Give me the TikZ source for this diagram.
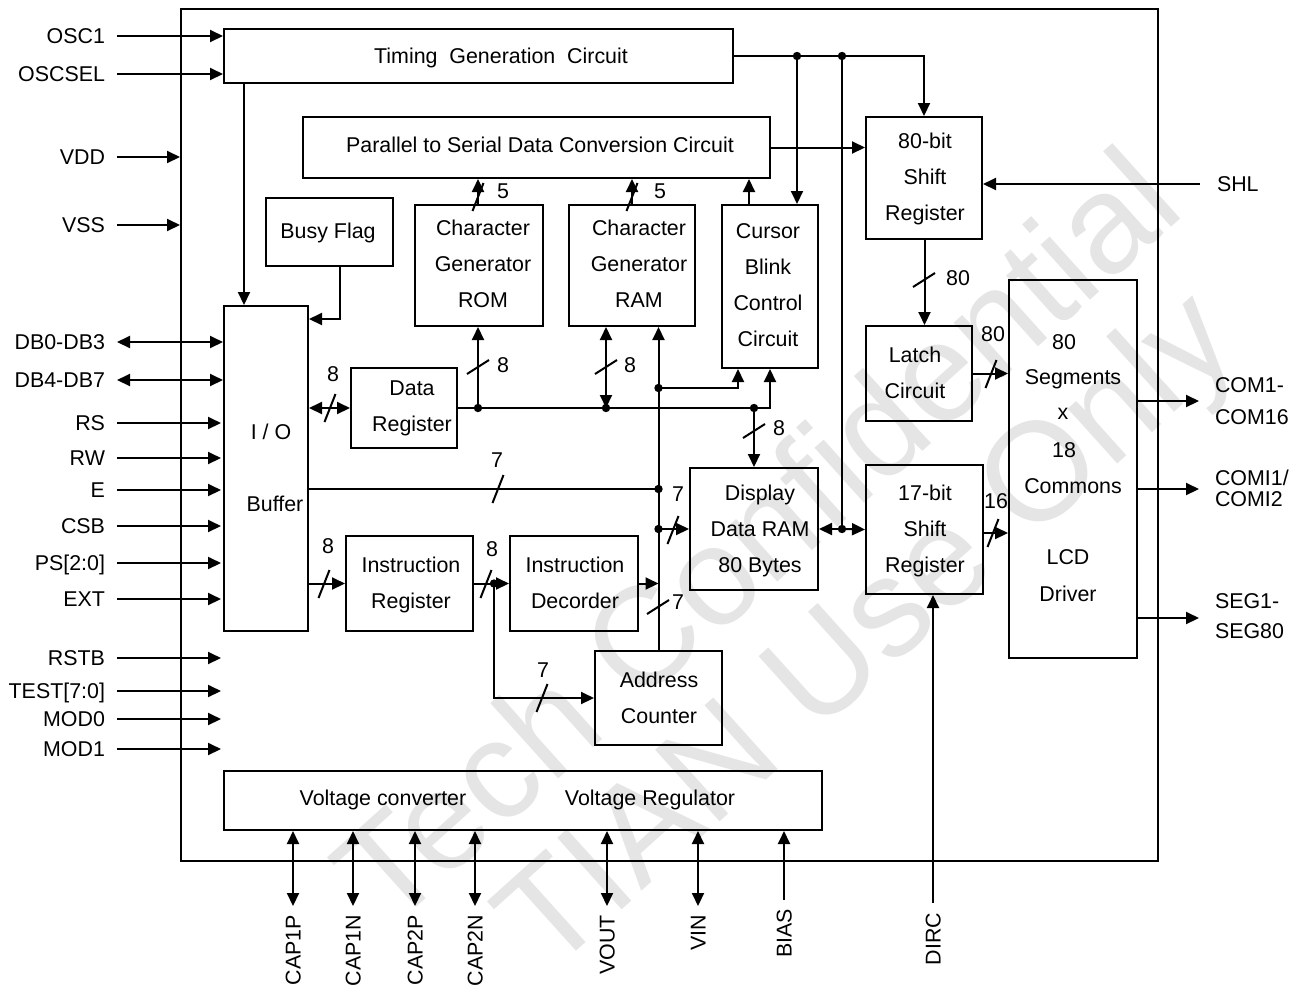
\documentclass[tikz,border=0pt]{standalone}
\usepackage{fontspec}
\setmainfont{Liberation Sans}
\usetikzlibrary{arrows.meta,fit}
\newcommand{\busH}[1]{\draw (#1) ++(-5.5,14) -- ++(11,-28);}
\newcommand{\busV}[1]{\draw (#1) ++(-11,7) -- ++(22,-14);}
\begin{document}
\begin{tikzpicture}[x=0.5pt,y=-0.5pt,line width=1pt,
  box/.style={draw,inner sep=0pt,fit={#1}},
  f/.style={font=\fontsize{10.7pt}{18pt}\selectfont},
  lbl/.style={f,inner sep=0pt,text height=7.7pt,text depth=0pt},
  txt/.style={f,inner sep=0pt,align=center,text depth=0pt},
  arr/.style={-{Triangle[length=6.5pt,width=6pt]}},
  darr/.style={{Triangle[length=6.5pt,width=6pt]}-{Triangle[length=6.5pt,width=6pt]}},
  dot/.style={circle,fill,inner sep=0pt,minimum size=4.2pt},
  wm/.style={text=black!10,font=\fontsize{70pt}{70pt}\selectfont,rotate=42,inner sep=0pt}]
\useasboundingbox (0,0) rectangle (1300,986);
\fill[white] (0,0) rectangle (1300,986);
% watermark
\node[wm] (wm1) at (755,535) {Tech Confidential};
\node[wm] (wm2) at (872,636) {TIAN Use Only};
% boxes
\node[box={(181,9) (1158,861)}] (chip) {};
\node[box={(224,29) (733,83)}] (tgc) {};
\node[box={(303,117) (770,178)}] (ps) {};
\node[box={(266,198) (393,266)}] (busy) {};
\node[box={(415,205) (543,326)}] (cgrom) {};
\node[box={(569,205) (695,326)}] (cgram) {};
\node[box={(722,205) (818,368)}] (cbc) {};
\node[box={(866,117) (982,239)}] (sr80) {};
\node[box={(224,306) (308,631)}] (iob) {};
\node[box={(351,368) (457,448)}] (datareg) {};
\node[box={(346,536) (473,631)}] (ir) {};
\node[box={(510,536) (638,631)}] (dec) {};
\node[box={(595,651) (722,745)}] (ac) {};
\node[box={(690,468) (818,590)}] (ddram) {};
\node[box={(866,326) (972,421)}] (latch) {};
\node[box={(866,465) (983,594)}] (sr17) {};
\node[box={(1009,280) (1137,658)}] (lcd) {};
\node[box={(224,771) (822,830)}] (vc) {};
% box texts
\node[lbl] at (501,56) {Timing~ Generation~ Circuit};
\node[lbl] at (540,145) {Parallel to Serial Data Conversion Circuit};
\node[lbl] at (328,231) {Busy Flag};
\node[txt] at (483,264) {Character\\Generator\\ROM};
\node[txt] at (639,264) {Character\\Generator\\RAM};
\node[txt] at (768,285) {Cursor\\Blink\\Control\\Circuit};
\node[txt] at (925,177) {80-bit\\Shift\\Register};
\node[txt] at (412,406) {Data\\Register};
\node[lbl] at (271,432) {I / O};
\node[lbl] at (275,504) {Buffer};
\node[txt] at (411,583) {Instruction\\Register};
\node[txt] at (575,583) {Instruction\\Decorder};
\node[txt] at (659,698) {Address\\Counter};
\node[txt] at (760,529) {Display\\Data RAM\\80 Bytes};
\node[txt] at (915,373) {Latch\\Circuit};
\node[txt] at (925,529) {17-bit\\Shift\\Register};
\node[lbl] at (1064,342) {80};
\node[lbl] at (1073,377) {Segments};
\node[lbl] at (1063,412) {x};
\node[lbl] at (1064,450) {18};
\node[lbl] at (1073,486) {Commons};
\node[lbl] at (1068,557) {LCD};
\node[lbl] at (1068,594) {Driver};
\node[lbl] at (383,798) {Voltage converter};
\node[lbl] at (650,798) {Voltage Regulator};
% left pins
\foreach \n/\t/\y in {osc1/OSC1/36,oscsel/OSCSEL/74}{
  \node[lbl,anchor=east] (p\n) at (106,\y) {\t};
  \draw[arr] ([xshift=5.5pt]p\n.east) -- (p\n.east -| tgc.west);}
\foreach \n/\t/\y in {vdd/VDD/157,vss/VSS/225}{
  \node[lbl,anchor=east] (p\n) at (106,\y) {\t};
  \draw[arr] ([xshift=5.5pt]p\n.east) -- (p\n.east -| chip.west);}
\foreach \n/\t/\y in {dba/DB0-DB3/342,dbb/DB4-DB7/380}{
  \node[lbl,anchor=east] (p\n) at (106,\y) {\t};
  \draw[darr] ([xshift=5.5pt]p\n.east) -- (p\n.east -| iob.west);}
\foreach \n/\t/\y in {rs/RS/423,rw/RW/458,e/E/490,csb/CSB/526,psx/PS[2:0]/563,ext/EXT/599,rstb/RSTB/658,test/TEST[7:0]/691,moda/MOD0/719,modb/MOD1/749}{
  \node[lbl,anchor=east] (p\n) at (106,\y) {\t};
  \draw[arr] ([xshift=5.5pt]p\n.east) -- ([xshift=-1pt]p\n.east -| iob.west);}
% timing outputs
\draw[arr] ([xshift=10.5pt]tgc.south west) -- ([xshift=10.5pt]iob.north west);
\coordinate (jt1) at (797,56);
\coordinate (jt2) at (842,56);
\draw[arr] (tgc.east) -| (sr80.north);
\draw[arr] (jt1) -- (jt1 |- cbc.north);
\coordinate (jdd) at (jt2 |- ddram.east);
\draw (jt2) -- (jdd);
\draw[arr] (jdd) -- (ddram.east);
\draw[arr] (jdd) -- (sr17.west);
\node[dot] at (jt1) {};
\node[dot] at (jt2) {};
\node[dot] at (jdd) {};
% parallel to serial
\draw[arr] (ps.east) -- (ps.east -| sr80.west);
\draw[arr] ([xshift=-0.5pt]cgrom.north) -- ([xshift=-0.5pt]cgrom.north |- ps.south);
\busH{478,197} \node[lbl] at (503,191) {5};
\draw[arr] (cgram.north) -- (cgram.north |- ps.south);
\busH{632,197} \node[lbl] at (660,191) {5};
\draw[arr] ([xshift=-10.5pt]cbc.north) -- ([xshift=-10.5pt]cbc.north |- ps.south);
% SHL
\node[lbl,anchor=west] (shl) at (1216,184) {SHL};
\draw[arr] ([xshift=-8pt]shl.west) -- (shl.west -| sr80.east);
% 80-bit to latch
\draw[arr] ([xshift=0.25pt]sr80.south) -- ([xshift=0.25pt]sr80.south |- latch.north);
\busV{924,280} \node[lbl] at (958,278) {80};
\draw[arr] (latch.east) -- (latch.east -| lcd.west);
\busH{991,374} \node[lbl] at (993,334) {80};
\draw[arr] ([yshift=-1.75pt]sr17.east) -- ([yshift=-1.75pt]sr17.east -| lcd.west);
\busH{993,533} \node[lbl] at (996,501) {16};
% DIRC
\node[lbl,rotate=90,anchor=east] (dirc) at (933,912) {DIRC};
\draw[arr] ([yshift=4.5pt]dirc.east) -- (dirc.east |- sr17.south);
% LCD outputs
\node[f,inner sep=0pt,align=left,text depth=0pt,anchor=west,font=\fontsize{10.7pt}{16pt}\selectfont] (com) at (1214,401) {COM1-\\COM16};
\node[f,inner sep=0pt,align=left,text depth=0pt,anchor=west,font=\fontsize{10.7pt}{10.5pt}\selectfont] (comi) at (1214,488) {COMI1/\\COMI2};
\node[f,inner sep=0pt,align=left,text depth=0pt,anchor=west,font=\fontsize{10.7pt}{15pt}\selectfont] (seg) at (1214,616) {SEG1-\\SEG80};
\draw[arr] (com.west -| lcd.east) -- ([xshift=-7.5pt]com.west);
\draw[arr] ([yshift=-0.5pt]comi.west -| lcd.east) -- ([xshift=-7.5pt,yshift=-0.5pt]comi.west);
\draw[arr] ([yshift=-1pt]seg.west -| lcd.east) -- ([xshift=-7.5pt,yshift=-1pt]seg.west);
% I/O buffer connections
\draw[arr] ([xshift=5.25pt]busy.south) |- ([yshift=-7pt]iob.north east);
\draw[darr] (datareg.west -| iob.east) -- (datareg.west);
\busH{330,408} \node[lbl] at (333,374) {8};
\coordinate (jd1) at (478,408);
\coordinate (jd2) at (606,408);
\coordinate (jd3) at (754,408);
\draw[arr] (datareg.east) -| (cbc.south);
\draw[arr] (jd1) -- (jd1 |- cgrom.south);
\busV{478,367} \node[lbl] at (503,365) {8};
\draw[darr] (jd2) -- (jd2 |- cgram.south);
\busV{606,367} \node[lbl] at (630,365) {8};
\draw[arr] (jd3) -- (jd3 |- ddram.north);
\busV{754,431} \node[lbl] at (779,428) {8};
\node[dot] at (jd1) {};
\node[dot] at (jd2) {};
\node[dot] at (jd3) {};
% address bus
\draw[arr] (ac.north) -- (ac.north |- cgram.south);
\coordinate (ja1) at (ac.north |- 0,388);
\coordinate (ja2) at (ac.north |- 0,489);
\coordinate (ja3) at (ac.north |- ddram.west);
\draw[arr] (ja1) -| ([xshift=-16pt]cbc.south);
\draw (iob.east |- ja2) -- (ja2);
\busH{498,489} \node[lbl] at (497,460) {7};
\draw[arr] (ja3) -- (ddram.west);
\busH{673,530} \node[lbl] at (678,494) {7};
\draw[arr] (dec.east) -- (dec.east -| ac.north);
\busV{658,607} \node[lbl] at (678,602) {7};
\node[dot] at (ja1) {};
\node[dot] at (ja2) {};
\node[dot] at (ja3) {};
% instruction path
\draw[arr] (iob.east |- ir.west) -- (ir.west);
\busH{324,584} \node[lbl] at (328,546) {8};
\draw[arr] (ir.east) -- (dec.west);
\busH{486,584} \node[lbl] at (492,549) {8};
\coordinate (ji) at (494,583.5);
\draw[arr] (ji) |- (ac.west);
\busH{542,698} \node[lbl] at (543,670) {7};
\node[dot] at (ji) {};
% bottom pins
\foreach \n/\t/\x in {capa/CAP1P/293,capb/CAP1N/353,capc/CAP2P/415,capd/CAP2N/475,vout/VOUT/607,vin/VIN/698}{
  \node[lbl,rotate=90,anchor=east] (p\n) at (\x,914) {\t};
  \draw[darr] ([yshift=4pt]p\n.east) -- (p\n.east |- vc.south);}
\node[lbl,rotate=90,anchor=east] (pbias) at (784,908) {BIAS};
\draw[arr] ([yshift=4pt]pbias.east) -- (pbias.east |- vc.south);
\end{tikzpicture}
\end{document}
